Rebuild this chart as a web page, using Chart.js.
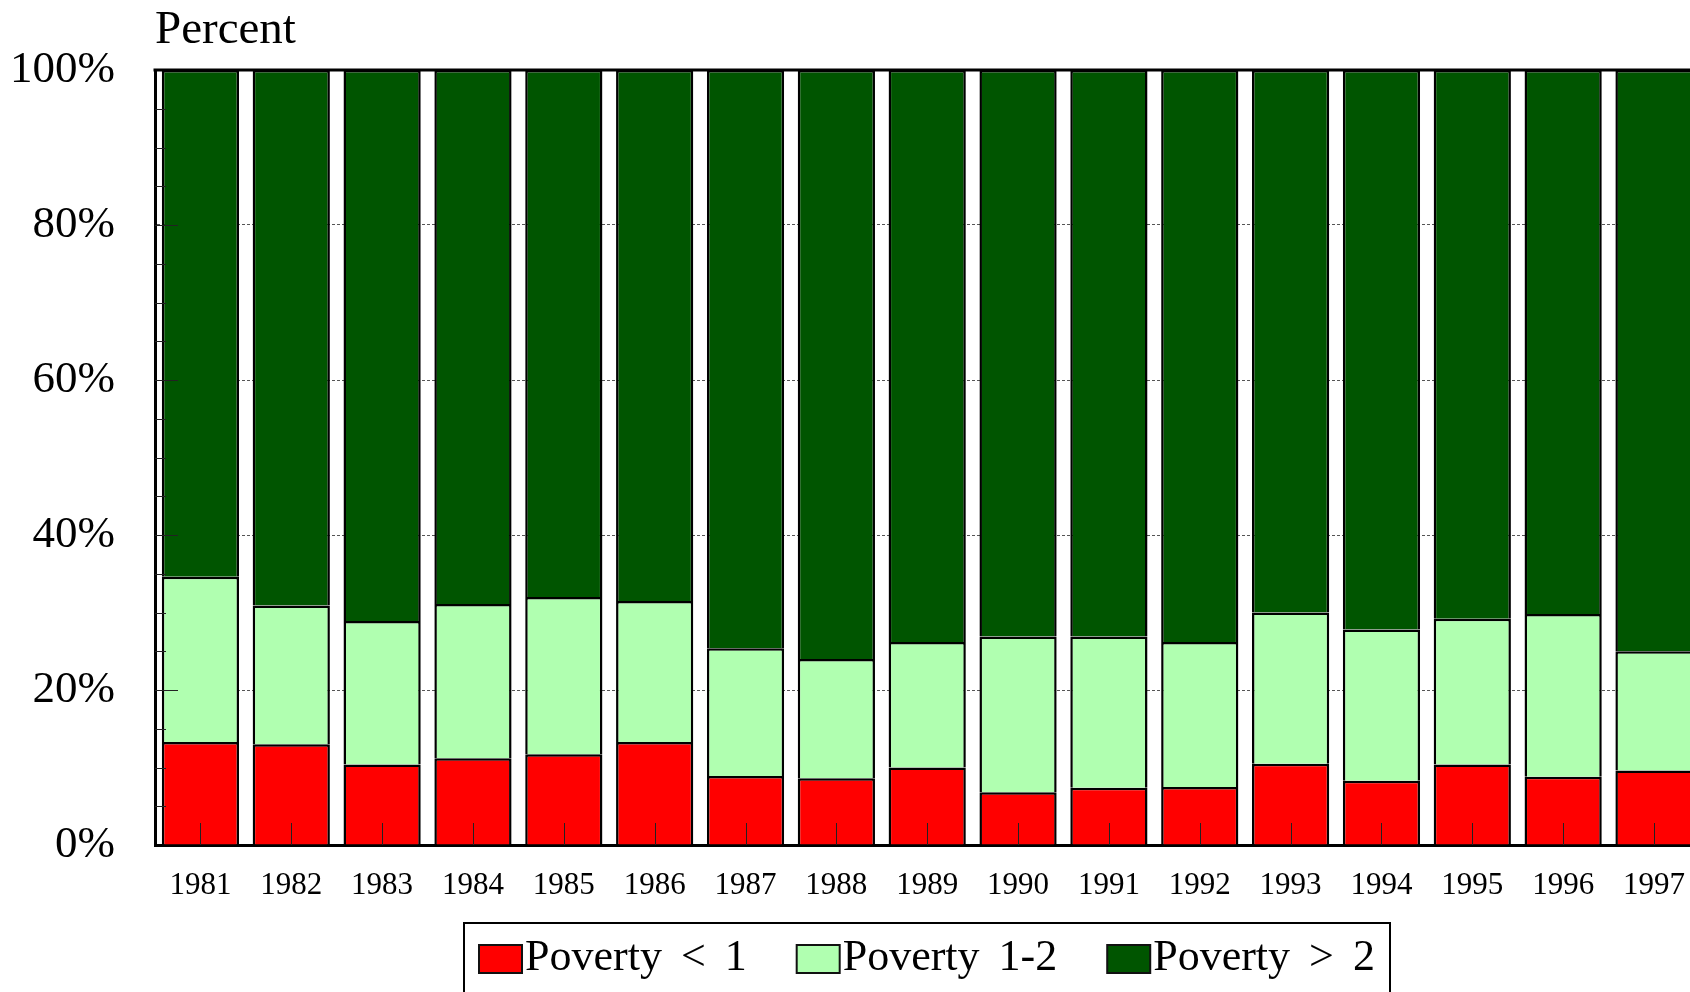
<!DOCTYPE html>
<html>
<head>
<meta charset="utf-8">
<script src="https://cdn.jsdelivr.net/npm/chart.js@4.4.1/dist/chart.umd.min.js"></script>
<style>
html, body { margin:0; padding:0; background:#fff; overflow:hidden; width:1690px; height:992px; }
#wrap { position:absolute; left:0; top:0; width:1707px; height:992px; }
canvas { display:block; }
</style>
</head>
<body>
<div id="wrap"><canvas id="c" width="1707" height="992"></canvas></div>
<script>
// ---- data ----
const years = ['1981','1982','1983','1984','1985','1986','1987','1988','1989','1990','1991','1992','1993','1994','1995','1996','1997'];
const povertyBelow1 = [13.3, 13.0, 10.4, 11.2, 11.7, 13.3, 8.9, 8.6, 10.0, 6.8, 7.4, 7.5, 10.5, 8.3, 10.4, 8.8, 9.6];
const poverty1to2   = [21.3, 17.9, 18.5, 19.9, 20.3, 18.2, 16.5, 15.4, 16.2, 20.1, 19.5, 18.7, 19.5, 19.5, 18.8, 21.0, 15.4];
const povertyAbove2 = [65.4, 69.1, 71.1, 68.9, 68.0, 68.5, 74.6, 76.0, 73.8, 73.1, 73.1, 73.8, 70.0, 72.2, 70.8, 70.2, 75.0];
const seriesLabels = ['Poverty < 1', 'Poverty 1-2', 'Poverty > 2'];
const yTickStep = 20;
const yMinorStep = 5;
const yAxisTitle = 'Percent';

const SERIF = '"Liberation Serif", "Times New Roman", serif';

const decor = {
  id: 'decor',
  afterDatasetsDraw(chart) {
    const { ctx, chartArea: a, scales: { x, y } } = chart;
    const line = (x1, y1, x2, y2) => { ctx.beginPath(); ctx.moveTo(x1, y1); ctx.lineTo(x2, y2); ctx.stroke(); };
    ctx.save();
    ctx.strokeStyle = '#222';
    ctx.lineWidth = 1;
    for (let v = yMinorStep; v < 100; v += yMinorStep) {
      const py = Math.round(y.getPixelForValue(v)) + 0.5;
      const len = (v % yTickStep === 0) ? 23 : 11;
      line(a.left, py, a.left + len, py);
    }
    x.ticks.forEach((t, i) => {
      const px = Math.round(x.getPixelForValue(i)) + 0.5;
      line(px, a.bottom, px, a.bottom - 22);
    });
    ctx.strokeStyle = '#000';
    ctx.lineWidth = 3;
    line(a.left - 1.5, a.top, a.right, a.top);
    ctx.restore();
  },
  afterDraw(chart) {
    const { ctx, chartArea: a } = chart;
    ctx.save();
    ctx.fillStyle = '#000';
    ctx.font = '47px ' + SERIF;
    ctx.textAlign = 'left';
    ctx.textBaseline = 'alphabetic';
    ctx.fillText(yAxisTitle, a.left, 43);

    // legend
    ctx.font = '44px ' + SERIF;
    if ('wordSpacing' in ctx) ctx.wordSpacing = '8px';
    const sw = 43, sh = 28, textGap = 3, itemGap = 50, padX = 15;
    const boxTop = 923, swTop = 945, baseline = 970;
    const items = chart.data.datasets.map(d => ({ text: d.label, color: d.backgroundColor, w: ctx.measureText(d.label).width }));
    const contentW = items.reduce((s, it) => s + sw + textGap + it.w, 0) + itemGap * (items.length - 1);
    const boxW = contentW + 2 * padX;
    const cx = (a.left + a.right) / 2;
    const bx = Math.round(cx - boxW / 2);
    ctx.strokeStyle = '#000';
    ctx.lineWidth = 2;
    ctx.strokeRect(bx, boxTop, Math.round(boxW), 120);
    let px = bx + padX;
    items.forEach(it => {
      ctx.fillStyle = it.color;
      ctx.fillRect(px, swTop, sw, sh);
      ctx.lineWidth = 2;
      ctx.strokeStyle = '#111';
      ctx.strokeRect(px, swTop, sw, sh);
      ctx.fillStyle = '#000';
      ctx.fillText(it.text, px + sw + textGap, baseline);
      px += sw + textGap + it.w + itemGap;
    });
    ctx.restore();
  }
};

const barCommon = { borderColor: '#000', borderWidth: 2.5, barPercentage: 0.85, categoryPercentage: 1.0 };

new Chart(document.getElementById('c'), {
  type: 'bar',
  data: {
    labels: years,
    datasets: [
      Object.assign({ label: seriesLabels[0], data: povertyBelow1, backgroundColor: '#ff0000' }, barCommon),
      Object.assign({ label: seriesLabels[1], data: poverty1to2, backgroundColor: '#b0ffb0' }, barCommon),
      Object.assign({ label: seriesLabels[2], data: povertyAbove2, backgroundColor: '#005500' }, barCommon)
    ]
  },
  options: {
    responsive: false,
    animation: false,
    devicePixelRatio: 1,
    layout: { padding: { top: 70, right: 0, left: 0, bottom: 0 } },
    plugins: { legend: { display: false }, tooltip: { enabled: false } },
    scales: {
      x: {
        stacked: true,
        offset: true,
        grid: { display: false, drawTicks: false },
        border: { display: true, width: 3, color: '#000' },
        ticks: { font: { family: SERIF, size: 31 }, color: '#000', padding: 22, maxRotation: 0, autoSkip: false },
        afterFit(s) { s.height = 147; }
      },
      y: {
        stacked: true,
        min: 0,
        max: 100,
        ticks: { stepSize: yTickStep, callback: v => v + '%', font: { family: SERIF, size: 45 }, color: '#000', padding: 40 },
        grid: { drawTicks: false, color: '#555', lineWidth: 1 },
        border: { display: true, width: 3, color: '#000', dash: [3, 2] },
        afterFit(s) { s.width = 155; }
      }
    }
  },
  plugins: [decor]
});
</script>
</body>
</html>
